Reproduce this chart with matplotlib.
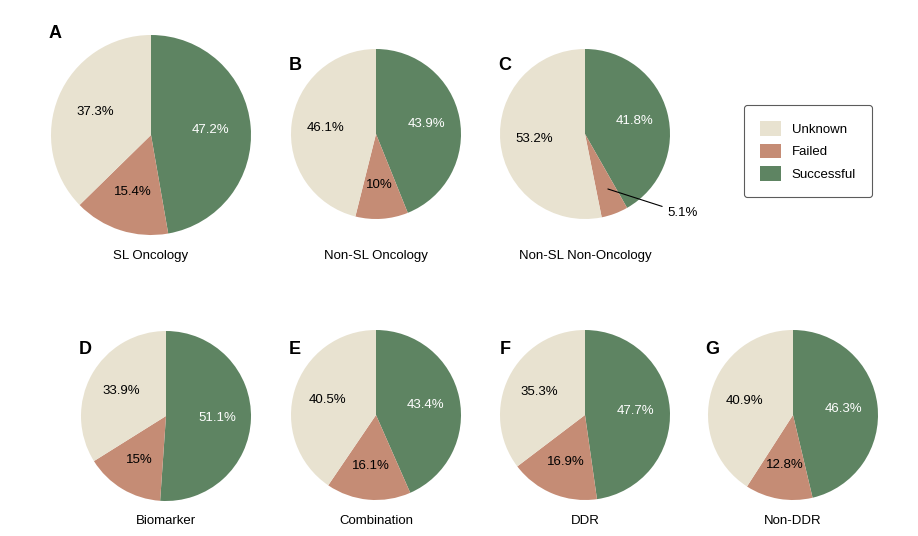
import matplotlib
matplotlib.use("Agg")
import matplotlib.pyplot as plt
from matplotlib.patches import Patch

plt.rcParams['font.family'] = ['Liberation Sans', 'DejaVu Sans']

titles = ["SL Oncology", "Non-SL Oncology", "Non-SL Non-Oncology",
          "Biomarker", "Combination", "DDR", "Non-DDR"]
letters = ["A", "B", "C", "D", "E", "F", "G"]
successful = [47.2, 43.9, 41.8, 51.1, 43.4, 47.7, 46.3]
failed = [15.4, 10.0, 5.1, 15.0, 16.1, 16.9, 12.8]
unknown = [37.3, 46.1, 53.2, 33.9, 40.5, 35.3, 40.9]
labels_fmt = lambda v: (f"{v:g}%")
colors = ["#5E8462", "#C58C75", "#E8E2D0"]

W, H = 918, 536
fig = plt.figure(figsize=(W/100, H/100), dpi=100)

# (cx, cy, r) in pixels, letter position
geom = [(151, 135, 100), (376, 134, 85), (585, 134, 85),
        (166, 416, 85), (376, 415, 85), (585, 415, 85), (793, 415, 85)]
letter_pos = [(55, 33), (295, 66), (505, 66), (85, 350), (295, 350), (505, 350), (712, 350)]
title_y = [256, 256, 256, 521, 521, 521, 521]

for i in range(7):
    cx, cy, r = geom[i]
    ax = fig.add_axes([(cx - r)/W, 1 - (cy + r)/H, 2*r/W, 2*r/H])
    vals = [successful[i], failed[i], unknown[i]]
    wedges, texts = ax.pie(vals, colors=colors, startangle=90, counterclock=False,
                           radius=1, labels=None)
    import numpy as np
    ang = 90
    for j, (v, w) in enumerate(zip(vals, wedges)):
        mid = np.deg2rad((w.theta1 + w.theta2) / 2)
        txt = labels_fmt(v)
        col = "white" if j == 0 else "black"
        if i == 2 and j == 1:
            x0, y0 = 0.68*np.cos(mid), 0.68*np.sin(mid)
            ax.annotate(txt, xy=(x0, y0), xytext=(1.15, -0.93), fontsize=9.5,
                        ha="center", va="center",
                        arrowprops=dict(arrowstyle="-", color="black", lw=0.8))
        else:
            rr = 0.6
            ax.text(rr*np.cos(mid), rr*np.sin(mid), txt, ha="center", va="center",
                    fontsize=9.5, color=col)
    ax.set_xlim(-1, 1); ax.set_ylim(-1, 1)
    ax.set_aspect("equal")
    ax.axis("off")
    fig.text(cx/W, 1 - title_y[i]/H, titles[i], ha="center", va="center", fontsize=9.5)
    lx, ly = letter_pos[i]
    fig.text(lx/W, 1 - ly/H, letters[i], ha="center", va="center", fontsize=13, fontweight="bold")

handles = [Patch(facecolor=colors[2], label="Unknown"),
           Patch(facecolor=colors[1], label="Failed"),
           Patch(facecolor=colors[0], label="Successful")]
leg = fig.legend(handles=handles, loc="center", bbox_to_anchor=(808/W, 1 - 151/H),
                 fontsize=9.5, frameon=True, handlelength=1.6, handleheight=1.3,
                 borderpad=1.2, labelspacing=0.6, fancybox=True, edgecolor="#333333")
leg.get_frame().set_linewidth(0.8)

fig.savefig("out.png", dpi=100)
